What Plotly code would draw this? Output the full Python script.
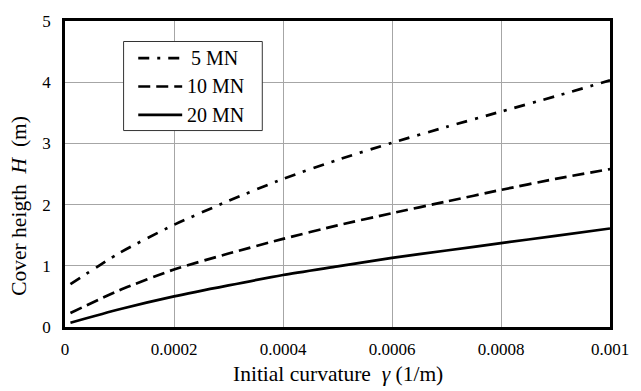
import plotly.graph_objects as go

curvature = [0.00001, 0.0001, 0.0002, 0.0003, 0.0004, 0.0005, 0.0006, 0.0007, 0.0008, 0.0009, 0.001]
h_5mn = [0.70, 1.21, 1.67, 2.06, 2.42, 2.73, 3.01, 3.27, 3.52, 3.77, 4.03]
h_10mn = [0.23, 0.60, 0.94, 1.20, 1.44, 1.66, 1.86, 2.05, 2.24, 2.42, 2.58]
h_20mn = [0.07, 0.29, 0.50, 0.68, 0.85, 0.99, 1.13, 1.25, 1.37, 1.49, 1.61]
series_names = ["5 MN", "10 MN", "20 MN"]
x_ticks = [0, 0.0002, 0.0004, 0.0006, 0.0008, 0.001]
x_tick_labels = ["0", "0.0002", "0.0004", "0.0006", "0.0008", "0.001"]
y_ticks = [0, 1, 2, 3, 4, 5]

FONT = "Liberation Serif"
DASHES = ["11px,8px,3px,8px", "12px,6px", "solid"]
series_values = [h_5mn, h_10mn, h_20mn]

fig = go.Figure()
for name, vals, dash in zip(series_names, series_values, DASHES):
    fig.add_trace(go.Scatter(x=curvature, y=vals, mode="lines", name=name,
                             line=dict(color="black", width=2.7, dash=dash,
                                       shape="spline", smoothing=0.6)))

# Custom legend box (paper coordinates)
shapes = [dict(type="rect", xref="paper", yref="paper", x0=0.1075, x1=0.362,
               y0=0.642, y1=0.933, line=dict(color="#333333", width=1),
               fillcolor="white", layer="above")]
annotations = []
leg_y = [0.879, 0.786, 0.693]
for name, dash, yy in zip(series_names, DASHES, leg_y):
    shapes.append(dict(type="line", xref="paper", yref="paper", x0=0.1344, x1=0.215,
                       y0=yy, y1=yy, line=dict(color="black", width=2.7, dash=dash),
                       layer="above"))
    annotations.append(dict(text=name, xref="paper", yref="paper",
                            x=0.2276 if name == "5 MN" else 0.2204, y=yy,
                            xanchor="left", yanchor="middle", showarrow=False,
                            font=dict(family=FONT, size=20, color="black")))

annotations += [
    dict(text="Initial curvature  <i>γ</i> (1/m)", xref="paper", yref="paper",
         x=0.5, y=-0.155, xanchor="center", yanchor="middle", showarrow=False,
         font=dict(family=FONT, size=21.5)),
    dict(text="Cover heigth  <i>H</i>  (m)", xref="paper", yref="paper",
         x=-0.085, y=0.395, xanchor="center", yanchor="middle", showarrow=False,
         textangle=-90, font=dict(family=FONT, size=21.5)),
]

fig.update_layout(
    width=641, height=391,
    margin=dict(l=65, r=18, t=14, b=64),
    paper_bgcolor="white", plot_bgcolor="white",
    font=dict(family=FONT, color="black", size=17),
    showlegend=False,
    xaxis=dict(range=[0, 0.001], tickvals=x_ticks, ticktext=x_tick_labels,
               showgrid=True, gridcolor="#a6a6a6", gridwidth=1,
               showline=True, linecolor="black", linewidth=2.5, mirror=True,
               ticks="", ticklabelstandoff=5, zeroline=False,
               ticklabeloverflow="allow",
               tickfont=dict(family=FONT, size=17)),
    yaxis=dict(range=[0, 5], tickvals=y_ticks,
               showgrid=True, gridcolor="#a6a6a6", gridwidth=1,
               showline=True, linecolor="black", linewidth=2.5, mirror=True,
               ticks="", ticklabelstandoff=8, zeroline=False,
               ticklabeloverflow="allow",
               tickfont=dict(family=FONT, size=17)),
    shapes=shapes,
    annotations=annotations,
)

fig.write_html(
    "out.html",
    config={"displayModeBar": False, "responsive": False},
    post_script="document.body.style.margin='0';document.body.style.overflow='hidden';",
)
